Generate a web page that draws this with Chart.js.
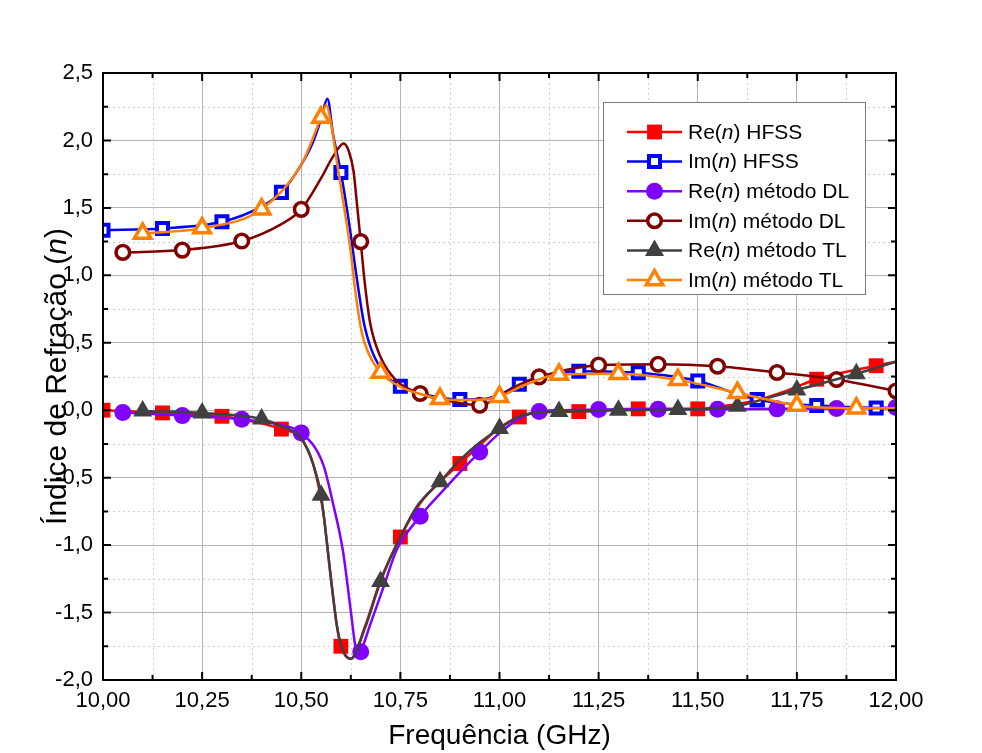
<!DOCTYPE html>
<html>
<head>
<meta charset="utf-8">
<script src="https://cdn.jsdelivr.net/npm/chart.js@4.4.1/dist/chart.umd.min.js"></script>
<style>
    html, body { margin: 0; padding: 0; background: #fff; }
    #wrap { width: 982px; height: 753px; }
</style>
</head>
<body>
<div id="wrap"><canvas id="chart" width="982" height="753"></canvas></div>
<script>
// axis ticks
const xTicks = [10, 10.25, 10.5, 10.75, 11, 11.25, 11.5, 11.75, 12];
const xTickLabels = ["10,00", "10,25", "10,50", "10,75", "11,00", "11,25", "11,50", "11,75", "12,00"];
const xMinor = [10.125, 10.375, 10.625, 10.875, 11.125, 11.375, 11.625, 11.875];
const yTicks = [-2, -1.5, -1, -0.5, 0, 0.5, 1, 1.5, 2, 2.5];
const yTickLabels = ["-2,0", "-1,5", "-1,0", "-0,5", "0,0", "0,5", "1,0", "1,5", "2,0", "2,5"];
const yMinor = [-1.75, -1.25, -0.75, -0.25, 0.25, 0.75, 1.25, 1.75, 2.25];

// symbol positions (GHz)
const hfssFreq = [10.00, 10.15, 10.30, 10.45, 10.60, 10.75, 10.90, 11.05, 11.20, 11.35, 11.50, 11.65, 11.80, 11.95];
const dlFreq = [10.05, 10.20, 10.35, 10.50, 10.65, 10.80, 10.95, 11.10, 11.25, 11.40, 11.55, 11.70, 11.85, 12.00];
const tlFreq = [10.10, 10.25, 10.40, 10.55, 10.70, 10.85, 11.00, 11.15, 11.30, 11.45, 11.60, 11.75, 11.90];

// symbol values
const reHfssMarks = [0.00, -0.02, -0.045, -0.14, -1.75, -0.94, -0.395, -0.05, -0.01, 0.01, 0.01, 0.075, 0.23, 0.33];
const imHfssMarks = [1.335, 1.348, 1.397, 1.615, 1.763, 0.178, 0.079, 0.193, 0.289, 0.277, 0.217, 0.079, 0.035, 0.017];
const reDlMarks = [-0.017, -0.04, -0.067, -0.168, -1.79, -0.786, -0.31, -0.01, 0.005, 0.007, 0.007, 0.01, 0.012, 0.02];
const imDlMarks = [1.17, 1.187, 1.254, 1.489, 1.25, 0.124, 0.037, 0.247, 0.334, 0.341, 0.326, 0.28, 0.228, 0.143];
const reTlMarks = [-0.005, -0.02, -0.065, -0.63, -1.27, -0.53, -0.135, -0.01, 0.0, 0.005, 0.03, 0.15, 0.27];
const imTlMarks = [1.31, 1.35, 1.49, 2.17, 0.28, 0.085, 0.10, 0.265, 0.27, 0.225, 0.13, 0.035, 0.015];

// curves
const reHfssF = [10.00, 10.15, 10.30, 10.45, 10.50, 10.53, 10.555, 10.575, 10.59, 10.60, 10.625, 10.66, 10.70, 10.75, 10.80, 10.85, 10.90, 10.95, 11.00, 11.05, 11.10, 11.20, 11.35, 11.50, 11.575, 11.65, 11.72, 11.80, 11.95, 12.00];
const reHfss = [0.00, -0.02, -0.045, -0.14, -0.21, -0.40, -0.75, -1.25, -1.60, -1.75, -1.84, -1.61, -1.26, -0.94, -0.69, -0.53, -0.395, -0.26, -0.13, -0.05, -0.015, -0.01, 0.01, 0.01, 0.035, 0.075, 0.14, 0.23, 0.33, 0.36];

const imHfssF = [10.00, 10.15, 10.30, 10.40, 10.45, 10.50, 10.53, 10.55, 10.566, 10.58, 10.60, 10.62, 10.64, 10.66, 10.70, 10.75, 10.80, 10.85, 10.90, 10.95, 11.00, 11.05, 11.10, 11.20, 11.35, 11.50, 11.58, 11.65, 11.72, 11.80, 11.95, 12.00];
const imHfss = [1.335, 1.348, 1.397, 1.51, 1.615, 1.82, 1.99, 2.16, 2.31, 2.05, 1.763, 1.40, 0.98, 0.62, 0.31, 0.178, 0.125, 0.095, 0.079, 0.08, 0.115, 0.193, 0.245, 0.289, 0.277, 0.217, 0.14, 0.079, 0.05, 0.035, 0.017, 0.015];

const reDlF = [10.05, 10.20, 10.35, 10.45, 10.50, 10.555, 10.58, 10.605, 10.625, 10.638, 10.645, 10.65, 10.675, 10.71, 10.74, 10.80, 10.85, 10.90, 10.95, 11.00, 11.05, 11.10, 11.15, 11.25, 11.40, 11.55, 11.70, 11.85, 12.00];
const reDl = [-0.017, -0.04, -0.067, -0.11, -0.168, -0.40, -0.69, -1.04, -1.49, -1.78, -1.815, -1.79, -1.58, -1.29, -1.04, -0.786, -0.62, -0.46, -0.31, -0.17, -0.06, -0.01, 0.0, 0.005, 0.007, 0.007, 0.01, 0.012, 0.02];

const imDlF = [10.05, 10.20, 10.35, 10.45, 10.50, 10.55, 10.58, 10.607, 10.62, 10.632, 10.64, 10.65, 10.66, 10.674, 10.70, 10.74, 10.80, 10.87, 10.95, 11.00, 11.05, 11.10, 11.25, 11.40, 11.55, 11.70, 11.85, 12.00];
const imDl = [1.17, 1.187, 1.254, 1.38, 1.489, 1.72, 1.88, 1.978, 1.92, 1.77, 1.545, 1.25, 0.95, 0.643, 0.395, 0.22, 0.124, 0.07, 0.037, 0.10, 0.19, 0.247, 0.334, 0.341, 0.326, 0.28, 0.228, 0.143];

const reTlF = [10.10, 10.25, 10.40, 10.45, 10.50, 10.53, 10.55, 10.575, 10.59, 10.605, 10.625, 10.66, 10.70, 10.745, 10.79, 10.85, 10.90, 10.95, 11.00, 11.05, 11.10, 11.15, 11.30, 11.45, 11.60, 11.675, 11.75, 11.90, 12.00];
const reTl = [-0.005, -0.02, -0.065, -0.12, -0.21, -0.40, -0.63, -1.25, -1.60, -1.78, -1.845, -1.62, -1.27, -0.97, -0.72, -0.53, -0.37, -0.24, -0.135, -0.045, -0.015, -0.01, 0.0, 0.005, 0.03, 0.09, 0.15, 0.27, 0.36];

const imTlF = [10.10, 10.25, 10.40, 10.50, 10.55, 10.563, 10.575, 10.59, 10.61, 10.625, 10.636, 10.653, 10.67, 10.70, 10.75, 10.80, 10.85, 10.90, 10.95, 11.00, 11.05, 11.15, 11.30, 11.45, 11.60, 11.75, 11.90, 12.00];
const imTl = [1.31, 1.35, 1.49, 1.82, 2.17, 2.26, 2.13, 1.84, 1.47, 1.17, 0.89, 0.57, 0.42, 0.28, 0.173, 0.12, 0.085, 0.075, 0.078, 0.10, 0.17, 0.265, 0.27, 0.225, 0.13, 0.035, 0.015, 0.015];

const FONT = "'Liberation Sans', Arial, sans-serif";

const series = [
    { pre: "Re(", post: ") HFSS", color: "#ff0000", lineF: reHfssF, line: reHfss, markF: hfssFreq, mark: reHfssMarks,
      marker: { style: "rect", radius: 10.5, fill: "#ff0000", lw: 0 } },
    { pre: "Im(", post: ") HFSS", color: "#0000ff", lineF: imHfssF, line: imHfss, markF: hfssFreq, mark: imHfssMarks,
      marker: { style: "rect", radius: 7.8, fill: "#ffffff", lw: 4 } },
    { pre: "Re(", post: ") método DL", color: "#8000ff", lineF: reDlF, line: reDl, markF: dlFreq, mark: reDlMarks,
      marker: { style: "circle", radius: 8.5, fill: "#8000ff", lw: 0 } },
    { pre: "Im(", post: ") método DL", color: "#800000", lineF: imDlF, line: imDl, markF: dlFreq, mark: imDlMarks,
      marker: { style: "circle", radius: 6.8, fill: "#ffffff", lw: 3.5 } },
    { pre: "Re(", post: ") método TL", color: "#404040", lineF: reTlF, line: reTl, markF: tlFreq, mark: reTlMarks,
      marker: { style: "triangle", radius: 11, fill: "#404040", lw: 0 } },
    { pre: "Im(", post: ") método TL", color: "#ff8000", lineF: imTlF, line: imTl, markF: tlFreq, mark: imTlMarks,
      marker: { style: "triangle", radius: 9.5, fill: "#ffffff", lw: 3.5 } }
];

const datasets = [];
series.forEach((s, i) => {
    datasets.push({
        data: s.lineF.map((f, k) => ({ x: f, y: s.line[k] })),
        borderColor: s.color,
        borderWidth: 2.5,
        pointRadius: 0,
        cubicInterpolationMode: "monotone",
        fill: false,
        order: 20 - 2 * i
    });
    datasets.push({
        data: s.markF.map((f, k) => ({ x: f, y: s.mark[k] })),
        showLine: false,
        pointStyle: s.marker.style,
        pointRadius: s.marker.radius,
        pointBackgroundColor: s.marker.fill,
        pointBorderColor: s.color,
        pointBorderWidth: s.marker.lw,
        order: 19 - 2 * i
    });
});

function drawMarker(ctx, m, color, x, y) {
    const r = m.radius;
    ctx.beginPath();
    if (m.style === "rect") {
        const h = Math.SQRT1_2 * r;
        ctx.rect(x - h, y - h, 2 * h, 2 * h);
    } else if (m.style === "circle") {
        ctx.arc(x, y, r, 0, Math.PI * 2);
    } else {
        ctx.moveTo(x, y - r);
        ctx.lineTo(x + 0.866 * r, y + r / 2);
        ctx.lineTo(x - 0.866 * r, y + r / 2);
        ctx.closePath();
    }
    ctx.fillStyle = m.fill;
    ctx.fill();
    if (m.lw) {
        ctx.lineWidth = m.lw;
        ctx.strokeStyle = color;
        ctx.stroke();
    }
}

// text with an italic n in the middle
function mixedText(ctx, pre, post, size, x, y, align) {
    const normal = size + "px " + FONT;
    const italic = "italic " + size + "px " + FONT;
    ctx.font = normal; const w1 = ctx.measureText(pre).width;
    ctx.font = italic; const w2 = ctx.measureText("n").width;
    ctx.font = normal; const w3 = ctx.measureText(post).width;
    let x0 = align === "center" ? x - (w1 + w2 + w3) / 2 : x;
    ctx.textAlign = "left";
    ctx.font = normal; ctx.fillText(pre, x0, y);
    ctx.font = italic; ctx.fillText("n", x0 + w1, y);
    ctx.font = normal; ctx.fillText(post, x0 + w1 + w2, y);
}

const decor = {
    id: "decor",
    beforeDatasetsDraw(chart) {
        const { ctx, chartArea: a, scales: { x, y } } = chart;
        ctx.save();
        ctx.strokeStyle = "#cfcfcf";
        ctx.lineWidth = 1;
        ctx.setLineDash([2, 3]);
        ctx.beginPath();
        xMinor.forEach(v => {
            const px = Math.round(x.getPixelForValue(v)) + 0.5;
            ctx.moveTo(px, a.top); ctx.lineTo(px, a.bottom);
        });
        yMinor.forEach(v => {
            const py = Math.round(y.getPixelForValue(v)) + 0.5;
            ctx.moveTo(a.left, py); ctx.lineTo(a.right, py);
        });
        ctx.stroke();
        ctx.restore();
    },
    afterDatasetsDraw(chart) {
        const { ctx, chartArea: a, scales: { x, y } } = chart;
        ctx.save();
        ctx.strokeStyle = "#000";
        ctx.lineWidth = 2;
        ctx.beginPath();
        const tickX = (vals, len) => vals.forEach(v => {
            const px = x.getPixelForValue(v);
            ctx.moveTo(px, a.top); ctx.lineTo(px, a.top + len);
            ctx.moveTo(px, a.bottom); ctx.lineTo(px, a.bottom - len);
        });
        const tickY = (vals, len) => vals.forEach(v => {
            const py = y.getPixelForValue(v);
            ctx.moveTo(a.left, py); ctx.lineTo(a.left + len, py);
            ctx.moveTo(a.right, py); ctx.lineTo(a.right - len, py);
        });
        tickX(xTicks, 8); tickX(xMinor, 5);
        tickY(yTicks, 8); tickY(yMinor, 5);
        ctx.stroke();
        ctx.strokeRect(a.left, a.top, a.right - a.left, a.bottom - a.top);
        ctx.restore();
    },
    afterDraw(chart) {
        const { ctx, chartArea: a } = chart;
        ctx.save();
        // y axis title
        ctx.fillStyle = "#000";
        ctx.textBaseline = "alphabetic";
        ctx.translate(66, (a.top + a.bottom) / 2);
        ctx.rotate(-Math.PI / 2);
        mixedText(ctx, "Índice de Refração (", ")", 30, 0, 0, "center");
        ctx.restore();

        // legend
        ctx.save();
        const bx = 603, by = 102, bw = 262, bh = 192;
        ctx.fillStyle = "#fff";
        ctx.fillRect(bx, by, bw, bh);
        ctx.strokeStyle = "#7a7a7a";
        ctx.lineWidth = 1;
        ctx.strokeRect(bx + 0.5, by + 0.5, bw, bh);
        series.forEach((s, i) => {
            const ry = 132 + i * 29.6;
            ctx.strokeStyle = s.color;
            ctx.lineWidth = 2.5;
            ctx.beginPath();
            ctx.moveTo(627, ry); ctx.lineTo(682, ry);
            ctx.stroke();
            drawMarker(ctx, s.marker, s.color, 654.5, ry);
            ctx.fillStyle = "#000";
            ctx.textBaseline = "middle";
            mixedText(ctx, s.pre, s.post, 21, 688, ry + 1, "left");
        });
        ctx.restore();
    }
};

new Chart(document.getElementById("chart").getContext("2d"), {
    type: "line",
    data: { datasets },
    options: {
        responsive: false,
        animation: false,
        events: [],
        layout: { padding: { top: 73, right: 86, left: 0, bottom: 0 } },
        plugins: { legend: { display: false }, tooltip: { enabled: false } },
        scales: {
            x: {
                type: "linear", min: 10, max: 12,
                afterBuildTicks: s => { s.ticks = xTicks.map(v => ({ value: v })); },
                afterFit: s => { s.height = 73; },
                ticks: {
                    callback: (v, i) => xTickLabels[i],
                    font: { family: FONT, size: 22 }, color: "#000",
                    padding: 8, maxRotation: 0, autoSkip: false
                },
                grid: { color: "#b4b4b4", lineWidth: 1, drawTicks: false },
                border: { display: false },
                title: { display: true, text: "Frequência (GHz)", font: { family: FONT, size: 28 }, color: "#000", padding: 0 }
            },
            y: {
                type: "linear", min: -2, max: 2.5,
                afterBuildTicks: s => { s.ticks = yTicks.map(v => ({ value: v })); },
                afterFit: s => { s.width = 103; },
                ticks: {
                    callback: (v, i) => yTickLabels[i],
                    font: { family: FONT, size: 22 }, color: "#000",
                    padding: 10, autoSkip: false
                },
                grid: { color: "#b4b4b4", lineWidth: 1, drawTicks: false },
                border: { display: false }
            }
        }
    },
    plugins: [decor]
});
</script>
</body>
</html>
